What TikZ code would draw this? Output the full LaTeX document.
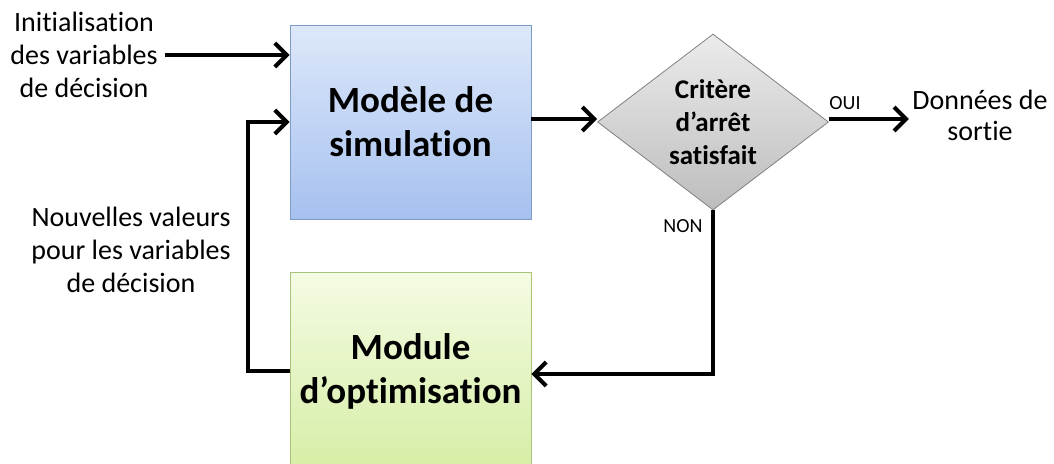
\documentclass[tikz,border=0pt]{standalone}
\usepackage{fontspec}
\setmainfont{Carlito}[RawFeature=-liga]
\usetikzlibrary{arrows.meta, positioning, shapes.geometric}

\definecolor{simtop}{HTML}{DDE8FA}
\definecolor{simbot}{HTML}{A6C1EF}
\definecolor{simline}{HTML}{7F9CC8}
\definecolor{opttop}{HTML}{F4FBE3}
\definecolor{optbot}{HTML}{D6EEA6}
\definecolor{optline}{HTML}{A9C47A}
\definecolor{crittop}{HTML}{EBEBEB}
\definecolor{critbot}{HTML}{BDBDBD}

\begin{document}
\begin{tikzpicture}[
                x=1pt, y=-1pt,
                >={Straight Barb[length=12pt, width=24pt]},
                flow/.style={->, line width=4pt},
                bloc/.style={draw, line width=0.8pt, minimum width=241pt, minimum height=194pt,
                        inner sep=0pt, align=center, font=\fontsize{37}{44}\selectfont\bfseries},
                txt/.style={align=center, font=\fontsize{28}{33}\selectfont},
                small/.style={font=\fontsize{20}{22}\selectfont}
        ]
        \clip (0,0) rectangle (1054,463);
        \node [bloc, draw=simline, top color=simtop, bottom color=simbot] (sim) at (410.5,122) {Modèle de\\simulation};
        \node [bloc, draw=optline, top color=opttop, bottom color=optbot, minimum height=198pt] (opt) at (410.5,371) {Module\\d’optimisation};
        \node [diamond, draw=black!50, line width=0.8pt, top color=crittop, bottom color=critbot,
                minimum width=231pt, minimum height=176pt, inner sep=0pt, align=center,
                font=\fontsize{27}{33}\selectfont\bfseries] (crit) at (713,122) {Critère\\d’arrêt\\satisfait};

        \node [txt] (init) at (84,55) {Initialisation\\des variables\\de décision};
        \node [txt] (nouv) at (131,250) {Nouvelles valeurs\\pour les variables\\de décision};
        \node [txt, font=\fontsize{28}{31}\selectfont] (sortie) at (980,115) {Données de\\sortie};
        \node [small] (oui) at (845,103) {OUI};
        \node [small] (non) at (683,226) {NON};

        \draw [flow] ([xshift=4pt]init.east) -- (sim.west |- init.east);
        \draw [flow] ([yshift=3pt]sim.east) -- ([yshift=3pt]crit.west);
        \draw [flow] ([yshift=3pt]crit.east) -- ([yshift=3pt]crit.east -| sortie.west);
        \draw [flow] (crit.south) |- ([yshift=-3pt]opt.east);
        \draw [flow] (opt.west) -- ++(-42,0) |- (sim.west);
\end{tikzpicture}
\end{document}
